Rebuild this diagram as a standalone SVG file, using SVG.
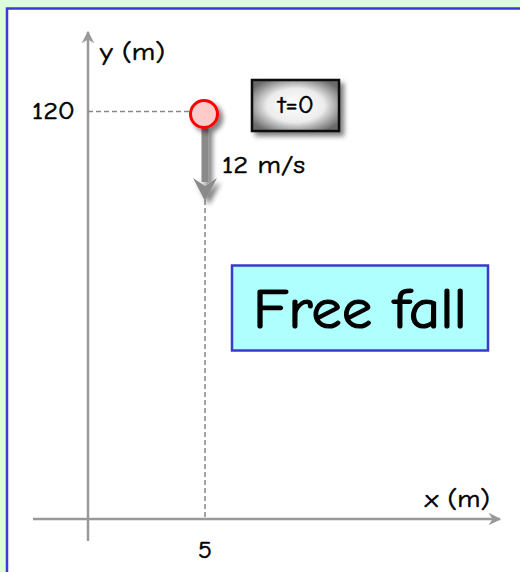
<svg xmlns="http://www.w3.org/2000/svg" width="520" height="572" viewBox="0 0 520 572">
<defs>
<style>
.lbl{font-family:"Comic Neue","DejaVu Sans","Liberation Sans",sans-serif;fill:#000;font-size:24px;stroke:#000;stroke-width:0.5px;}
.axis{stroke:#999;stroke-width:2.5;fill:none;}
.dash{stroke:#888;stroke-width:1.5;stroke-dasharray:5,3;fill:none;}
</style>
<marker id="ah" viewBox="0 0 10 10" refX="9" refY="5" markerWidth="5" markerHeight="5" orient="auto" markerUnits="strokeWidth">
<path d="M0,0 L10,5 L0,10 L3,5 z" fill="#999"/>
</marker>
<radialGradient id="tg" cx="50%" cy="50%" r="60%">
<stop offset="0" stop-color="#ffffff"/>
<stop offset="0.55" stop-color="#ececec"/>
<stop offset="1" stop-color="#6a6a6a"/>
</radialGradient>
<filter id="sh" x="-30%" y="-30%" width="180%" height="180%">
<feGaussianBlur in="SourceAlpha" stdDeviation="2.5"/>
<feOffset dx="4" dy="4" result="b"/>
<feComponentTransfer><feFuncA type="linear" slope="0.5"/></feComponentTransfer>
<feMerge><feMergeNode/><feMergeNode in="SourceGraphic"/></feMerge>
</filter>
</defs>
<rect x="0" y="0" width="520" height="572" fill="#dcfcdc"/>
<rect x="7" y="8.5" width="530" height="580" fill="#ffffff" stroke="#3a3adc" stroke-width="2.5"/>
<g id="axes">
<line class="axis" x1="88" y1="541" x2="88" y2="32" marker-end="url(#ah)"/>
<line class="axis" x1="33" y1="519" x2="500" y2="519" marker-end="url(#ah)"/>
<text class="lbl" x="100" y="60" textLength="65" lengthAdjust="spacingAndGlyphs">y (m)</text>
<text class="lbl" x="425" y="507" textLength="65" lengthAdjust="spacingAndGlyphs">x (m)</text>
<text class="lbl" x="32" y="119" textLength="43" lengthAdjust="spacingAndGlyphs">120</text>
<text class="lbl" x="198" y="558" textLength="14" lengthAdjust="spacingAndGlyphs">5</text>
</g>
<g id="connectors">
<line class="dash" x1="88" y1="111.5" x2="190" y2="111.5"/>
<line class="dash" x1="205" y1="200" x2="205" y2="519"/>
<g filter="url(#sh)">
<rect x="201.5" y="127" width="7" height="55" fill="#8a8a8a"/>
<path d="M193,178 L205,201 L217,178 L205,186 z" fill="#8a8a8a"/>
</g>
<text class="lbl" x="222" y="173" textLength="83" lengthAdjust="spacingAndGlyphs">12 m/s</text>
</g>
<g id="ball">
<circle cx="204" cy="114" r="13.5" fill="#ffcaca" stroke="#ff0000" stroke-width="3" filter="url(#sh)"/>
</g>
<g id="t0">
<rect x="252" y="80" width="87" height="51" fill="url(#tg)" stroke="#111" stroke-width="2.5" filter="url(#sh)"/>
<text class="lbl" x="278" y="113" textLength="36" lengthAdjust="spacingAndGlyphs">t=0</text>
</g>
<g id="freefall">
<rect x="232" y="265.5" width="256" height="85" fill="#b0ffff" stroke="#3a3acc" stroke-width="2.5"/>
<text class="lbl" x="253" y="328" style="font-size:56px;stroke-width:1.2px" textLength="214" lengthAdjust="spacingAndGlyphs">Free fall</text>
</g>
</svg>
